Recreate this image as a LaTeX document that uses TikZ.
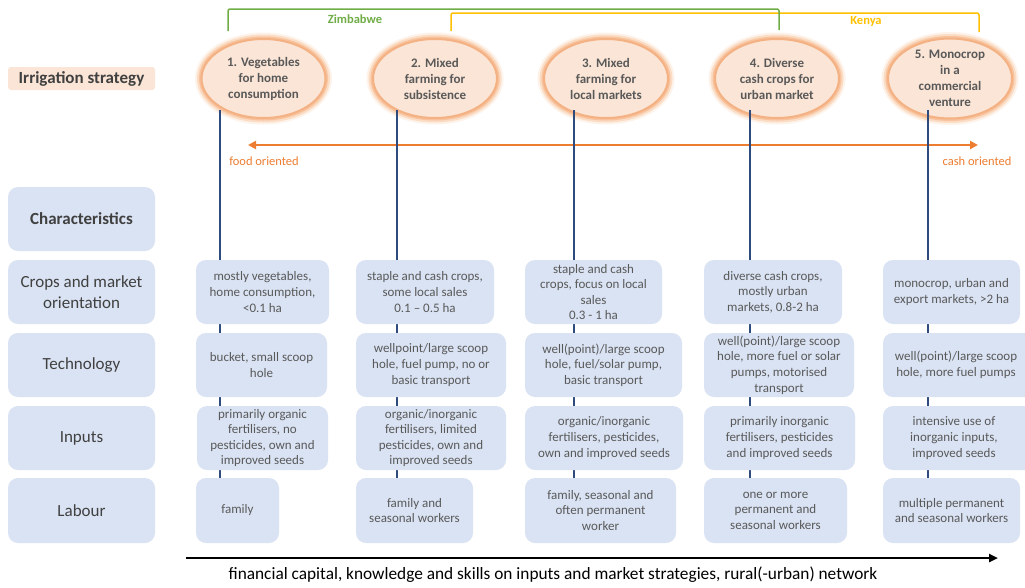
\documentclass[tikz,border=0pt]{standalone}
\usepackage{fontspec}
\setmainfont{Carlito}
\usetikzlibrary{arrows.meta,shapes.geometric}
\definecolor{cellblue}{HTML}{DAE3F3}
\definecolor{peach}{HTML}{FBE5D6}
\definecolor{glowA}{HTML}{FEF3EA}
\definecolor{glowB}{HTML}{FBDCC4}
\definecolor{glowC}{HTML}{F7C29C}
\definecolor{glowD}{HTML}{F4B183}
\definecolor{txtgray}{HTML}{595959}
\definecolor{lblgray}{HTML}{404040}
\definecolor{linkblue}{HTML}{2F4A7C}
\definecolor{zgreen}{HTML}{70AD47}
\definecolor{kyellow}{HTML}{FFC000}
\definecolor{orng}{HTML}{ED7D31}
\tikzset{
  cell/.style={fill=cellblue, rounded corners=10pt, draw=none, inner sep=0pt, align=center,
    text=txtgray, font=\fontsize{13}{15.6}\selectfont},
  rowlabel/.style={cell, text=lblgray, font=\fontsize{17}{21}\selectfont},
  strat/.style={ellipse, fill=peach, inner sep=0pt, minimum width=124pt, minimum height=79pt,
    align=center, text=txtgray, font=\bfseries\fontsize{13}{16}\selectfont,
    preaction={draw=glowA, line width=13pt},
    preaction={draw=glowB, line width=9pt},
    preaction={draw=glowC, line width=5pt},
    draw=glowD, line width=2pt},
  colline/.style={draw=linkblue, line width=1.5pt},
  bracket/.style={line width=1.5pt, rounded corners=2pt},
  plaintext/.style={inner sep=0pt, align=center, text=txtgray, font=\fontsize{13}{15.6}\selectfont},
}
\newcommand\cellnode[7][cell]{%
  \node[#1, minimum width={(#5-#3)*1pt}, minimum height={(#6-#4)*1pt}] (#2) at ({(#3+#5)/2},{(#4+#6)/2}) {#7};}
\begin{document}
\begin{tikzpicture}[x=1pt,y=-1pt]
\useasboundingbox[fill=white] (0,0) rectangle (1025,587);

% top brackets
\coordinate (g1) at (228,31); \coordinate (g2) at (779,30);
\coordinate (y1) at (451,31); \coordinate (y2) at (979,32);
\draw[bracket, draw=kyellow] (y1) -- (451,13) -- (979,13) -- (y2);
\draw[bracket, draw=zgreen] (g1) -- (228,9) -- (779,9) -- (g2);
\node[text=zgreen, font=\bfseries\fontsize{12.5}{14}\selectfont] (zim) at (355,19) {Zimbabwe};
\node[text=kyellow, font=\bfseries\fontsize{12.5}{14}\selectfont] (ken) at (866,21) {Kenya};

% irrigation strategy label
\node[fill=peach, rounded corners=3pt, inner sep=0pt, minimum width=147pt, minimum height=23pt,
  text=lblgray, font=\bfseries\fontsize{17}{21}\selectfont] (irr) at (81.5,78.5) {Irrigation strategy};

% strategy ellipses
\node[strat] (e1) at (263.5,78.5) {1. Vegetables\\for home\\consumption};
\node[strat] (e2) at (435,78.5) {2. Mixed\\farming for\\subsistence};
\node[strat] (e3) at (606,78.5) {3. Mixed\\farming for\\local markets};
\node[strat] (e4) at (777,78.5) {4. Diverse\\cash crops for\\urban market};
\node[strat] (e5) at (950,78.5) {5. Monocrop\\in a\\commercial\\venture};

% orange orientation arrow
\coordinate (fo) at (248,145); \coordinate (co) at (978,145);
\draw[orng, line width=2pt, {Triangle[length=8pt,width=8pt]}-{Triangle[length=8pt,width=8pt]}] (fo) -- (co);
\node[text=orng, font=\fontsize{12.5}{14}\selectfont] (food) at (264,161) {food oriented};
\node[text=orng, font=\fontsize{12.5}{14}\selectfont] (cash) at (977,161) {cash oriented};

% row labels
\cellnode[rowlabel]{ch}{8}{187}{155}{251}{\bfseries Characteristics}
\cellnode[rowlabel]{rc}{8}{260}{155}{324}{Crops and market\\orientation}
\cellnode[rowlabel]{rt}{8}{333}{155}{397}{Technology}
\cellnode[rowlabel]{ri}{8}{406}{155}{470}{Inputs}
\cellnode[rowlabel]{rl}{8}{478}{155}{543}{Labour}

% column lines (behind cells)
\coordinate (t1) at (220,110);
\coordinate (t2) at (397,110);
\coordinate (t3) at (574,110);
\coordinate (t4) at (750,110);
\coordinate (t5) at (928,110);
\foreach \i in {1,...,5}{\draw[colline] (t\i) -- ++(0,368);}

% column 1
\cellnode{c1}{196}{260}{329}{324}{mostly vegetables,\\home consumption,\\<0.1 ha}
\cellnode{t1b}{196}{333}{327}{397}{bucket, small scoop\\hole}
\cellnode{i1}{197}{406}{328}{470}{primarily organic\\fertilisers, no\\pesticides, own and\\improved seeds}
\cellnode{l1}{196}{478}{279}{543}{family}
% column 2
\cellnode{c2}{356}{260}{494}{324}{staple and cash crops,\\some local sales\\0.1 – 0.5 ha}
\cellnode{t2b}{356}{333}{506}{397}{wellpoint/large scoop\\hole, fuel pump, no or\\basic transport}
\cellnode{i2}{356}{406}{506}{470}{organic/inorganic\\fertilisers, limited\\pesticides, own and\\improved seeds}
\cellnode{l2}{356}{478}{473}{543}{family and\\seasonal workers}
% column 3
\cellnode{c3}{525}{260}{662}{324}{staple and cash\\crops, focus on local\\sales\\0.3 - 1 ha}
\cellnode{t3b}{525}{333}{682}{397}{well(point)/large scoop\\hole, fuel/solar pump,\\basic transport}
\cellnode{i3}{525}{406}{683}{470}{organic/inorganic\\fertilisers, pesticides,\\own and improved seeds}
\cellnode{l3}{525}{478}{676}{543}{family, seasonal and\\often permanent\\worker}
% column 4
\cellnode{c4}{704}{260}{842}{324}{diverse cash crops,\\mostly urban\\markets, 0.8-2 ha}
\cellnode{t4b}{704}{333}{854}{397}{well(point)/large scoop\\hole, more fuel or solar\\pumps, motorised\\transport}
\cellnode{i4}{704}{406}{855}{470}{primarily inorganic\\fertilisers, pesticides\\and improved seeds}
\cellnode{l4}{704}{478}{847}{543}{one or more\\permanent and\\seasonal workers}
% column 5
\cellnode{c5}{883}{260}{1020}{324}{monocrop, urban and\\export markets, >2 ha}
\cellnode{t5b}{883}{333}{1035}{397}{}
\node[plaintext] (t5bt) at (956,365) {well(point)/large scoop\\hole, more fuel pumps};
\cellnode{i5}{883}{406}{1035}{470}{}
\node[plaintext] (i5t) at (954,438) {intensive use of\\inorganic inputs,\\improved seeds};
\cellnode{l5}{883}{478}{1020}{543}{multiple permanent\\and seasonal workers}

% bottom arrow
\coordinate (b0) at (186,558); \coordinate (b1) at (998,558);
\draw[black, line width=2.5pt, -{Triangle[length=9pt,width=8pt]}] (b0) -- (b1);
\node[text=black, font=\fontsize{17.3}{20}\selectfont] (btxt) at (553,575) {financial capital, knowledge and skills on inputs and market strategies, rural(-urban) network};
\end{tikzpicture}
\end{document}
